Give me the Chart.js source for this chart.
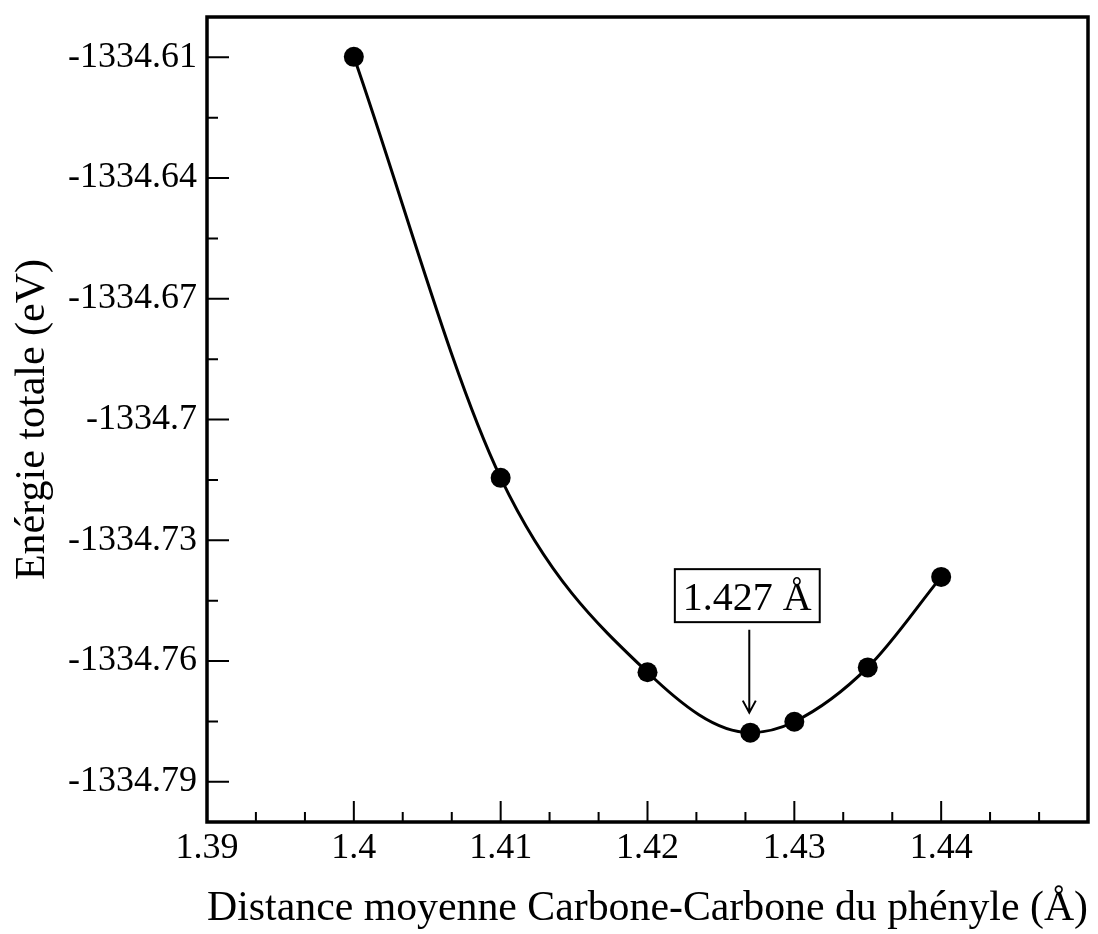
<!DOCTYPE html>
<html>
<head>
<meta charset="utf-8">
<script src="https://cdn.jsdelivr.net/npm/chart.js@4.4.1/dist/chart.umd.min.js"></script>
<style>
  html, body { margin: 0; padding: 0; background: #fff; }
  #wrap { width: 1098px; height: 934px; position: relative; }
</style>
</head>
<body>
<div id="wrap"><canvas id="c"></canvas></div>
<script>
// ---- data ----
const distances = [1.40, 1.41, 1.42, 1.427, 1.43, 1.435, 1.44];
const energies = [-1334.6099, -1334.7145, -1334.7628, -1334.7778, -1334.7751, -1334.7616, -1334.7391];
const xMajorTicks = [1.39, 1.40, 1.41, 1.42, 1.43, 1.44];
const xMinorTicks = [1.39333, 1.39667, 1.40333, 1.40667, 1.41333, 1.41667, 1.42333, 1.42667, 1.43333, 1.43667, 1.44333, 1.44667];
const yMajorTicks = [-1334.61, -1334.64, -1334.67, -1334.70, -1334.73, -1334.76, -1334.79];
const yMinorTicks = [-1334.625, -1334.655, -1334.685, -1334.715, -1334.745, -1334.775];
const xRange = [1.39, 1.45];
const yRange = [-1334.80, -1334.60];
const annotX = 1.427;
const annotY = -1334.7778;
const annotText = '1.427 Å';
const xTitle = 'Distance moyenne Carbone-Carbone du phényle (Å)';
const yTitle = 'Enérgie totale (eV)';

const FONT = '"Liberation Serif", "Times New Roman", serif';

function fmt(v) { return String(Number(v.toFixed(3))); }

const framePlugin = {
  id: 'frame',
  afterDatasetsDraw(chart) {
    const {ctx, chartArea: a, scales: {x, y}} = chart;
    ctx.save();
    ctx.strokeStyle = '#000';
    // ticks inward
    ctx.lineWidth = 2;
    ctx.beginPath();
    xMajorTicks.forEach(v => { const px = x.getPixelForValue(v); ctx.moveTo(px, a.bottom); ctx.lineTo(px, a.bottom - 21); });
    xMinorTicks.forEach(v => { const px = x.getPixelForValue(v); ctx.moveTo(px, a.bottom); ctx.lineTo(px, a.bottom - 10); });
    yMajorTicks.forEach(v => { const py = y.getPixelForValue(v); ctx.moveTo(a.left, py); ctx.lineTo(a.left + 22, py); });
    yMinorTicks.forEach(v => { const py = y.getPixelForValue(v); ctx.moveTo(a.left, py); ctx.lineTo(a.left + 11, py); });
    ctx.stroke();
    // frame
    ctx.lineWidth = 3.5;
    ctx.strokeRect(a.left, a.top, a.right - a.left, a.bottom - a.top);

    // annotation
    const ax = x.getPixelForValue(annotX);
    const ay = y.getPixelForValue(annotY);
    ctx.font = '40px ' + FONT;
    ctx.fillStyle = '#000';
    ctx.textAlign = 'center';
    ctx.textBaseline = 'alphabetic';
    const bx = ax - 3, by = ay - 137;
    const tw = ctx.measureText(annotText).width;
    ctx.fillText(annotText, bx, by + 14);
    ctx.lineWidth = 2;
    const bw = tw + 16, bh = 53;
    ctx.strokeRect(bx - bw / 2, by - 26.5, bw, bh);
    // arrow
    const tip = ay - 20;
    ctx.beginPath();
    ctx.moveTo(ax - 1, by + 34);
    ctx.lineTo(ax - 1, tip);
    ctx.moveTo(ax - 7.5, tip - 12);
    ctx.lineTo(ax - 1, tip);
    ctx.lineTo(ax + 5.5, tip - 12);
    ctx.stroke();
    ctx.restore();
  }
};

new Chart(document.getElementById('c'), {
  type: 'line',
  data: {
    datasets: [{
      data: distances.map((d, i) => ({x: d, y: energies[i]})),
      borderColor: '#000',
      backgroundColor: '#000',
      borderWidth: 3,
      pointRadius: 10,
      pointBackgroundColor: '#000',
      pointBorderWidth: 0,
      cubicInterpolationMode: 'monotone',
      fill: false
    }]
  },
  options: {
    responsive: true,
    maintainAspectRatio: false,
    animation: false,
    layout: { padding: { top: 17, right: 8, left: 0, bottom: 0 } },
    plugins: { legend: { display: false }, tooltip: { enabled: false } },
    scales: {
      x: {
        type: 'linear',
        min: xRange[0], max: xRange[1],
        grid: { display: false, drawTicks: false },
        border: { display: false },
        afterBuildTicks: s => { s.ticks = xMajorTicks.map(v => ({value: v})); },
        afterFit: s => { s.height = 112; s.paddingLeft = 0; s.paddingRight = 0; },
        ticks: {
          color: '#000', padding: 5, maxRotation: 0, autoSkip: false,
          font: { family: FONT, size: 36 },
          callback: v => fmt(v)
        },
        title: {
          display: true, text: xTitle, color: '#000',
          font: { family: FONT, size: 42 },
          padding: { top: 0, bottom: 0 }
        }
      },
      y: {
        type: 'linear',
        min: yRange[0], max: yRange[1],
        grid: { display: false, drawTicks: false },
        border: { display: false },
        afterBuildTicks: s => { s.ticks = yMajorTicks.map(v => ({value: v})); },
        afterFit: s => { s.width = 207; s.paddingTop = 0; s.paddingBottom = 0; },
        ticks: {
          color: '#000', padding: 10, autoSkip: false,
          font: { family: FONT, size: 36 },
          callback: v => fmt(v)
        },
        title: {
          display: true, text: yTitle, color: '#000',
          font: { family: FONT, size: 42 },
          padding: { top: 8, bottom: 0 }
        }
      }
    }
  },
  plugins: [framePlugin]
});
</script>
</body>
</html>
